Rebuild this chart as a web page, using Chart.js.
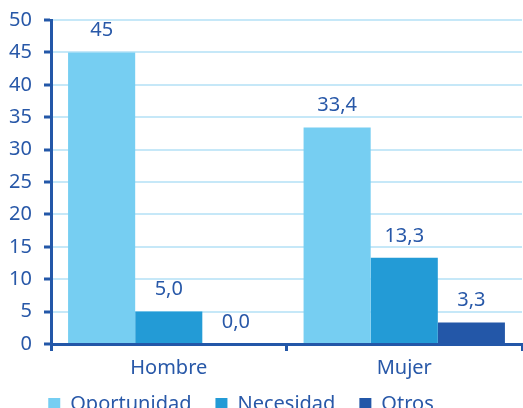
<!DOCTYPE html>
<html>
<head>
<meta charset="utf-8">
<script src="https://cdn.jsdelivr.net/npm/chart.js@4"></script>
<style>
  html, body { margin: 0; padding: 0; background: #fff; overflow: hidden; }
  .wrap { width: 523px; height: 439px; }
</style>
</head>
<body>
<div class="wrap"><canvas id="myChart"></canvas></div>
<script>
const categories = ["Hombre", "Mujer"];
const seriesNames = ["Oportunidad", "Necesidad", "Otros"];
const oportunidad = [45, 33.4];
const necesidad = [5.0, 13.3];
const otros = [0.0, 3.3];
// decimals shown in each bar label
const labelDecimals = [[0, 1], [1, 1], [1, 1]];
const yTicks = [0, 5, 10, 15, 20, 25, 30, 35, 40, 45, 50];

const colors = ["#76cef2", "#239bd6", "#2357a8"];
const axisColor = "#2357a8";
const textColor = "#2858a8";
const font = "'Noto Sans', sans-serif";

// value labels above each bar
const barLabels = {
  id: "barLabels",
  afterDatasetsDraw(chart) {
    const c = chart.ctx;
    c.save();
    c.font = "20px " + font;
    c.fillStyle = textColor;
    c.textAlign = "center";
    c.textBaseline = "middle";
    chart.data.datasets.forEach((ds, i) => {
      chart.getDatasetMeta(i).data.forEach((bar, j) => {
        const txt = ds.data[j].toFixed(labelDecimals[i][j]).replace(".", ",");
        c.fillText(txt, bar.x, bar.y - 22);
      });
    });
    c.restore();
  },
};

// pull the legend up closer to the category labels, and a bit to the left
const legendShift = {
  id: "legendShift",
  afterLayout(chart) {
    const lg = chart.legend;
    lg.top -= 15;
    lg.bottom -= 15;
    lg.left -= 20;
    lg.right -= 20;
  },
};

const ctx = document.getElementById("myChart");

new Chart(ctx, {
  type: "bar",
  data: {
    labels: categories,
    datasets: [oportunidad, necesidad, otros].map((d, i) => ({
      label: seriesNames[i],
      data: d,
      backgroundColor: colors[i],
      borderWidth: 0,
      barPercentage: 1,
      categoryPercentage: 0.855,
    })),
  },
  options: {
    responsive: true,
    maintainAspectRatio: false,
    animation: false,
    layout: { padding: { top: 20, right: 1, left: 0, bottom: 0 } },
    plugins: {
      legend: {
        position: "bottom",
        labels: {
          color: textColor,
          font: { size: 20, family: font },
          boxWidth: 12,
          boxHeight: 12,
          padding: 24,
        },
      },
      tooltip: { enabled: false },
    },
    scales: {
      x: {
        offset: true,
        grid: {
          offset: true,
          drawOnChartArea: false,
          tickColor: axisColor,
          tickLength: 7,
          lineWidth: 3,
        },
        border: { color: axisColor, width: 3 },
        ticks: {
          color: textColor,
          font: { size: 20, family: font },
          padding: 5,
        },
      },
      y: {
        min: 0,
        max: 50,
        afterBuildTicks(axis) {
          axis.ticks = yTicks.map((v) => ({ value: v }));
        },
        afterFit(axis) {
          axis.width = 51;
          axis.paddingTop = 0;
          axis.paddingBottom = 0;
        },
        grid: {
          color: "#c6e8f8",
          lineWidth: 2,
          tickColor: axisColor,
          tickWidth: 3,
          tickLength: 7,
        },
        border: { color: axisColor, width: 3 },
        ticks: {
          color: textColor,
          font: { size: 20, family: font },
          padding: 12,
        },
      },
    },
  },
  plugins: [barLabels, legendShift],
});
</script>
</body>
</html>
